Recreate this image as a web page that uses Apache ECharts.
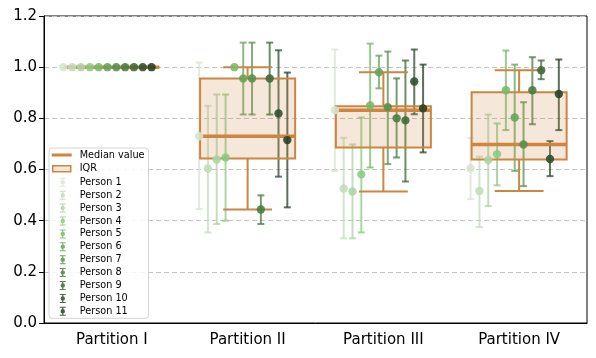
<!DOCTYPE html>
<html>
<head>
<meta charset="utf-8">
<script src="https://cdn.jsdelivr.net/npm/echarts@6/dist/echarts.min.js"></script>
<style>
  html, body { margin: 0; padding: 0; background: #fff; }
  #chart { width: 596px; height: 358px; }
</style>
</head>
<body>
<div id="chart"></div>
<script>
// categories
const partitions = ['Partition I', 'Partition II', 'Partition III', 'Partition IV'];
const persons = ['Person 1', 'Person 2', 'Person 3', 'Person 4', 'Person 5', 'Person 6',
  'Person 7', 'Person 8', 'Person 9', 'Person 10', 'Person 11'];
const personColors = ['#d4e6d0', '#c2dcbc', '#aed3a6', '#8cc982', '#76b96a', '#64a45a',
  '#579050', '#477c42', '#3b6937', '#2e4c2c', '#243f22'];

// per person: value in Partition I..IV
const meanValues = [
  [1.0, 0.730, 0.832, 0.605],
  [1.0, 0.604, 0.526, 0.516],
  [1.0, 0.639, 0.514, 0.637],
  [1.0, 0.647, 0.581, 0.660],
  [1.0, 1.000, 0.850, 0.910],
  [1.0, 0.956, 0.980, 0.803],
  [1.0, 0.956, 0.844, 0.698],
  [1.0, 0.444, 0.800, 0.910],
  [1.0, 0.956, 0.792, 0.988],
  [1.0, 0.819, 0.944, 0.641],
  [1.0, 0.715, 0.839, 0.895]
];
const lowerValues = [
  [1.0, 0.445, 0.594, 0.484],
  [1.0, 0.354, 0.331, 0.375],
  [1.0, 0.387, 0.331, 0.457],
  [1.0, 0.400, 0.354, 0.538],
  [1.0, 1.000, 0.608, 0.754],
  [1.0, 0.815, 0.917, 0.594],
  [1.0, 0.815, 0.621, 0.535],
  [1.0, 0.387, 0.647, 0.777],
  [1.0, 0.815, 0.553, 0.953],
  [1.0, 0.572, 0.816, 0.574],
  [1.0, 0.452, 0.667, 0.754]
];
const upperValues = [
  [1.0, 1.018, 1.069, 0.724],
  [1.0, 0.849, 0.724, 0.650],
  [1.0, 0.893, 0.698, 0.815],
  [1.0, 0.893, 0.803, 0.780],
  [1.0, 1.000, 1.092, 1.065],
  [1.0, 1.096, 1.045, 1.010],
  [1.0, 1.096, 1.061, 0.863],
  [1.0, 0.499, 0.956, 1.039],
  [1.0, 1.096, 1.026, 1.026],
  [1.0, 1.066, 1.069, 0.711],
  [1.0, 0.979, 1.010, 1.030]
];

// box statistics per partition
const whiskerLow = [1.0, 0.444, 0.514, 0.516];
const q1Values = [1.0, 0.643, 0.686, 0.639];
const medianValues = [1.0, 0.730, 0.832, 0.698];
const q3Values = [1.0, 0.956, 0.847, 0.902];
const whiskerHigh = [1.0, 1.0, 0.980, 0.988];

const yTicks = [0, 0.2, 0.4, 0.6, 0.8, 1.0, 1.2];

const ORANGE = '#cd853f';
const FONT = 'DejaVu Sans';
const BOX_W = 0.7, CAP_W = 0.36, STEP = 0.065;

function personX(api, cat, idx) {
  const cx = api.coord([cat, 0])[0];
  const band = api.size([1, 0])[0];
  return cx + (idx - 5.5) * STEP * band;
}

const barData = [];
persons.forEach((p, i) => {
  partitions.forEach((c, j) => {
    barData.push([j, i, lowerValues[i][j], upperValues[i][j]]);
  });
});

const series = [];

series.push({
  type: 'custom',
  name: 'errorbars',
  z: 1,
  data: barData,
  renderItem(params, api) {
    const cat = api.value(0), idx = api.value(1);
    const lo = api.value(2), hi = api.value(3);
    if (hi - lo < 1e-6) return null;
    const x = personX(api, cat, idx);
    const y1 = api.coord([cat, lo])[1];
    const y2 = api.coord([cat, hi])[1];
    const st = { stroke: personColors[idx], lineWidth: 2, opacity: 0.75 };
    return {
      type: 'group',
      children: [
        { type: 'line', shape: { x1: x, y1: y1, x2: x, y2: y2 }, style: st },
        { type: 'line', shape: { x1: x - 3.5, y1: y1, x2: x + 3.5, y2: y1 }, style: st },
        { type: 'line', shape: { x1: x - 3.5, y1: y2, x2: x + 3.5, y2: y2 }, style: st }
      ]
    };
  }
});

series.push({
  type: 'custom',
  name: 'IQR',
  z: 2,
  data: partitions.map((c, j) => [j, q1Values[j], q3Values[j]]),
  renderItem(params, api) {
    const cat = api.value(0);
    const band = api.size([1, 0])[0];
    const cx = api.coord([cat, 0])[0];
    const yq1 = api.coord([cat, api.value(1)])[1];
    const yq3 = api.coord([cat, api.value(2)])[1];
    const w = band * BOX_W;
    return {
      type: 'rect',
      shape: { x: cx - w / 2, y: yq3, width: w, height: yq1 - yq3 },
      style: { fill: 'rgba(205,133,63,0.2)', stroke: ORANGE, lineWidth: 2 }
    };
  }
});

series.push({
  type: 'custom',
  name: 'Median value',
  z: 2,
  data: partitions.map((c, j) => [j, whiskerLow[j], q1Values[j], medianValues[j], q3Values[j], whiskerHigh[j]]),
  renderItem(params, api) {
    const cat = api.value(0);
    const band = api.size([1, 0])[0];
    const cx = api.coord([cat, 0])[0];
    const y = k => api.coord([cat, api.value(k)])[1];
    const w = band * BOX_W, cw = band * CAP_W;
    const st = { stroke: ORANGE, lineWidth: 2 };
    return {
      type: 'group',
      children: [
        { type: 'line', shape: { x1: cx, y1: y(2), x2: cx, y2: y(1) }, style: st },
        { type: 'line', shape: { x1: cx, y1: y(4), x2: cx, y2: y(5) }, style: st },
        { type: 'line', shape: { x1: cx - cw / 2, y1: y(1), x2: cx + cw / 2, y2: y(1) }, style: st },
        { type: 'line', shape: { x1: cx - cw / 2, y1: y(5), x2: cx + cw / 2, y2: y(5) }, style: st },
        { type: 'line', shape: { x1: cx - w / 2, y1: y(3), x2: cx + w / 2, y2: y(3) },
          style: { stroke: ORANGE, lineWidth: 3.5 } }
      ]
    };
  }
});

persons.forEach((p, i) => {
  series.push({
    type: 'custom',
    name: p,
    z: 3,
    itemStyle: { color: personColors[i] },
    data: partitions.map((c, j) => [j, meanValues[i][j]]),
    renderItem(params, api) {
      const cat = api.value(0);
      const x = personX(api, cat, i);
      const y = api.coord([cat, api.value(1)])[1];
      return {
        type: 'circle',
        shape: { cx: x, cy: y, r: 4.2 },
        style: { fill: personColors[i], opacity: 0.88 }
      };
    }
  });
});

const ICON_MEDIAN = 'path://M0,0M20,10M0,3.5H20V6.5H0Z';
const ICON_IQR = 'path://M0,0M20,10M1,2H19V8H1Z';
const ICON_PERSON = 'path://M0,0M20,10M8,0.5H14V1.5H11.6V3.2H10.4V1.5H8Z' +
  'M10.4,6.8H11.6V8.5H14V9.5H8V8.5H10.4Z' +
  'M13.2,5A2.2,2.2 0 1,1 8.8,5A2.2,2.2 0 1,1 13.2,5Z';

const legendData = [
  { name: 'Median value', icon: ICON_MEDIAN, itemStyle: { color: ORANGE, borderWidth: 0 } },
  { name: 'IQR', icon: ICON_IQR,
    itemStyle: { color: 'rgba(205,133,63,0.2)', borderColor: ORANGE, borderWidth: 1.5 } }
].concat(persons.map((p, i) => ({
  name: p, icon: ICON_PERSON,
  itemStyle: { color: personColors[i], opacity: 0.85, borderWidth: 0 }
})));

const chart = echarts.init(document.getElementById('chart'));
chart.setOption({
  animation: false,
  grid: {
    left: 44, right: 9, top: 16, bottom: 35,
    show: true, borderColor: '#000', borderWidth: 1, backgroundColor: 'transparent'
  },
  legend: {
    orient: 'vertical',
    left: 49, top: 148,
    data: legendData,
    selectedMode: false,
    itemWidth: 20, itemHeight: 10, itemGap: 2.9,
    padding: [2, 4, 2, 2],
    backgroundColor: 'rgba(255,255,255,0.85)',
    borderColor: '#d4d4d4', borderWidth: 1, borderRadius: 3,
    textStyle: { fontFamily: FONT, fontSize: 9.7, color: '#000', padding: [0, 0, 0, 3] }
  },
  xAxis: {
    type: 'category',
    data: partitions,
    axisLine: { lineStyle: { color: '#000', width: 1 } },
    axisTick: { alignWithLabel: true, length: 5, lineStyle: { color: '#000' } },
    axisLabel: { fontFamily: FONT, fontSize: 15, color: '#000', margin: 10 },
    splitLine: { show: false }
  },
  yAxis: {
    type: 'value',
    min: yTicks[0], max: yTicks[yTicks.length - 1], interval: 0.2,
    axisLine: { show: true, lineStyle: { color: '#000', width: 1 } },
    axisTick: { show: true, length: 5, lineStyle: { color: '#000' } },
    axisLabel: { fontFamily: FONT, fontSize: 15, color: '#000', margin: 7,
      formatter: v => v.toFixed(1) },
    splitLine: { show: true, lineStyle: { color: '#c4c4c4', type: [5, 3], width: 1 } }
  },
  series: series
});
</script>
</body>
</html>
